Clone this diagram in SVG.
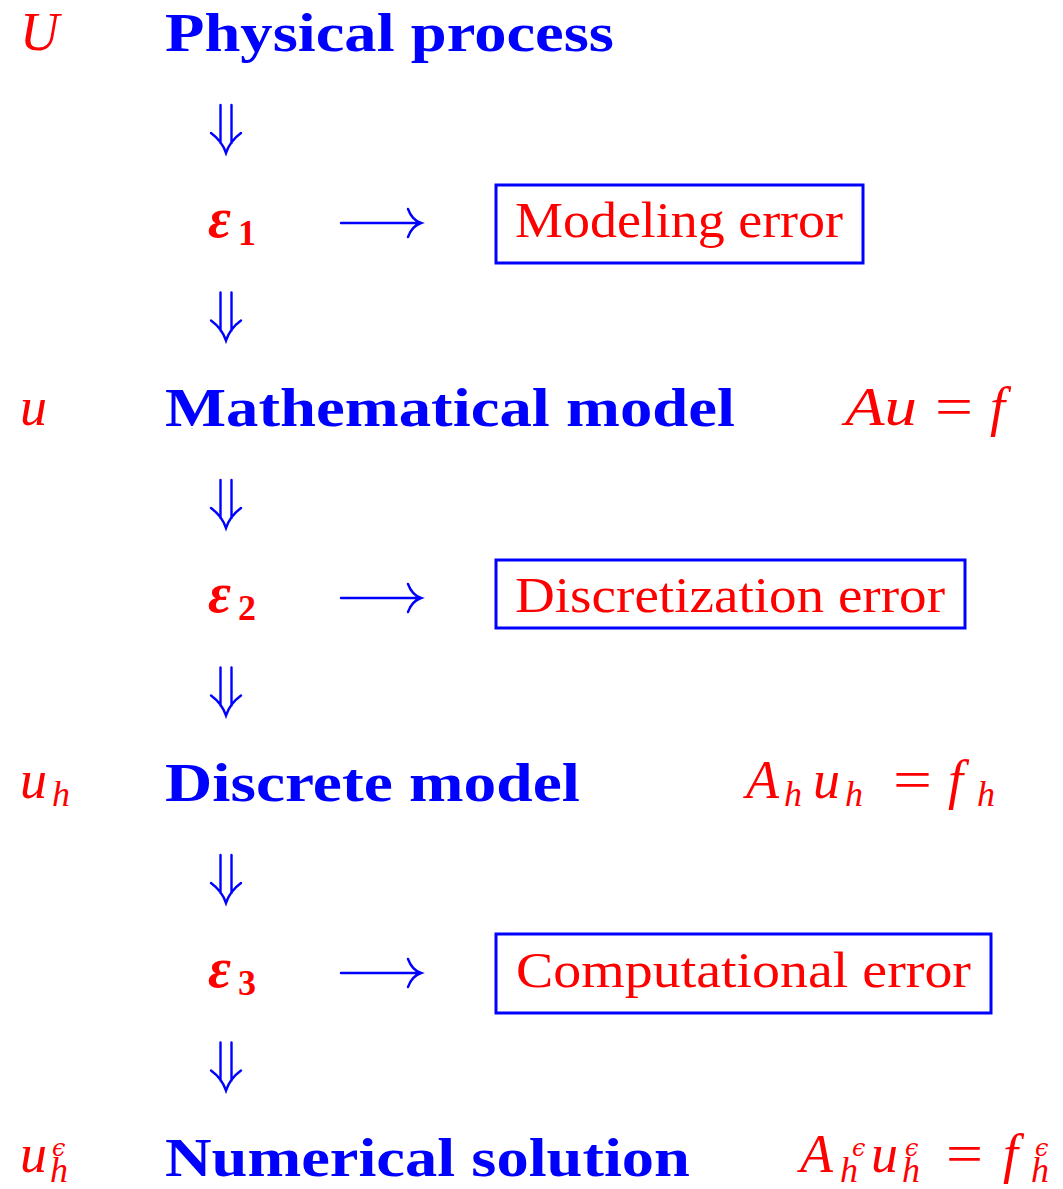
<svg xmlns="http://www.w3.org/2000/svg" width="1063" height="1189" viewBox="0 0 1063 1189">
<style>
.t{font-family:"Liberation Serif",serif;font-weight:bold;font-size:54px;fill:#0000FF}
.m{font-family:"Liberation Serif",serif;font-style:italic;font-size:54px;fill:#FF0000}
.s{font-family:"Liberation Serif",serif;font-style:italic;font-size:36px;fill:#FF0000}
.p{font-family:"DejaVu Serif",serif;font-style:italic;font-size:24px;fill:#FF0000}
.eq{font-family:"Liberation Serif",serif;font-size:54px;fill:#FF0000}
.e{font-family:"Liberation Serif",serif;font-style:italic;font-weight:bold;font-size:56px;fill:#FF0000}
.en{font-family:"Liberation Serif",serif;font-weight:bold;font-size:36px;fill:#FF0000}
.bt{font-family:"Liberation Serif",serif;font-size:50px;fill:#FF0000}
.box{fill:none;stroke:#0000FF;stroke-width:3}
.ar{fill:none;stroke:#0000FF;stroke-width:2.4;stroke-linecap:round}
</style>
<defs>
<path id="dar" class="ar" d="M220.5,0 V38 M231.5,0 V38 M211,28 Q222,36 226,48 Q230,36 241,28"/>
<path id="rar" class="ar" d="M341,0 H420 M408,-14 Q412,-3 421,0 Q412,3 408,14"/>
</defs>
<g id="connectors">
<use href="#dar" y="105"/>
<use href="#dar" y="292.5"/>
<use href="#dar" y="480"/>
<use href="#dar" y="667.5"/>
<use href="#dar" y="855"/>
<use href="#dar" y="1042.5"/>
<use href="#rar" y="223"/>
<use href="#rar" y="598"/>
<use href="#rar" y="973"/>
</g>
<g id="row1">
<text class="m" x="20" y="50">U</text>
<text class="t" x="165" y="51" textLength="449" lengthAdjust="spacingAndGlyphs">Physical process</text>
</g>
<g id="err1">
<text class="e" x="208" y="237">ε</text><text class="en" x="238" y="245">1</text>
<rect class="box" x="496" y="185" width="367" height="78"/>
<text class="bt" x="515" y="237" textLength="328" lengthAdjust="spacingAndGlyphs">Modeling error</text>
</g>
<g id="row2">
<text class="m" x="20" y="425">u</text>
<text class="t" x="165" y="426" textLength="570" lengthAdjust="spacingAndGlyphs">Mathematical model</text>
<text class="m" x="845" y="425" textLength="72" lengthAdjust="spacingAndGlyphs">Au</text>
<text class="eq" x="935" y="425" textLength="38" lengthAdjust="spacingAndGlyphs">=</text>
<text class="m" x="990" y="425">f</text>
</g>
<g id="err2">
<text class="e" x="208" y="612">ε</text><text class="en" x="238" y="620">2</text>
<rect class="box" x="496" y="560" width="469" height="68"/>
<text class="bt" x="515" y="612" textLength="430" lengthAdjust="spacingAndGlyphs">Discretization error</text>
</g>
<g id="row3">
<text class="m" x="20" y="798">u</text><text class="s" x="52" y="806">h</text>
<text class="t" x="165" y="801" textLength="415" lengthAdjust="spacingAndGlyphs">Discrete model</text>
<text class="m" x="746" y="798">A</text><text class="s" x="784" y="806">h</text>
<text class="m" x="813" y="798">u</text><text class="s" x="845" y="806">h</text>
<text class="eq" x="893" y="798" textLength="39" lengthAdjust="spacingAndGlyphs">=</text>
<text class="m" x="948" y="798">f</text><text class="s" x="977" y="806">h</text>
</g>
<g id="err3">
<text class="e" x="208" y="987">ε</text><text class="en" x="238" y="995">3</text>
<rect class="box" x="496" y="934" width="495" height="79"/>
<text class="bt" x="516" y="987" textLength="455" lengthAdjust="spacingAndGlyphs">Computational error</text>
</g>
<g id="row4">
<text class="m" x="20" y="1172">u<tspan class="p" x="52" y="1156">ϵ</tspan><tspan class="s" x="50" y="1182">h</tspan></text>
<text class="t" x="165" y="1176" textLength="525" lengthAdjust="spacingAndGlyphs">Numerical solution</text>
<text class="m" x="800" y="1172">A<tspan class="p" x="852" y="1156">ϵ</tspan><tspan class="s" x="840" y="1182">h</tspan><tspan x="871" y="1172">u</tspan><tspan class="p" x="905" y="1156">ϵ</tspan><tspan class="s" x="902" y="1182">h</tspan></text>
<text class="eq" x="946" y="1172" textLength="37" lengthAdjust="spacingAndGlyphs">=</text>
<text class="m" x="1003" y="1172">f<tspan class="p" x="1035" y="1156">ϵ</tspan><tspan class="s" x="1031" y="1182">h</tspan></text>
</g>
</svg>
